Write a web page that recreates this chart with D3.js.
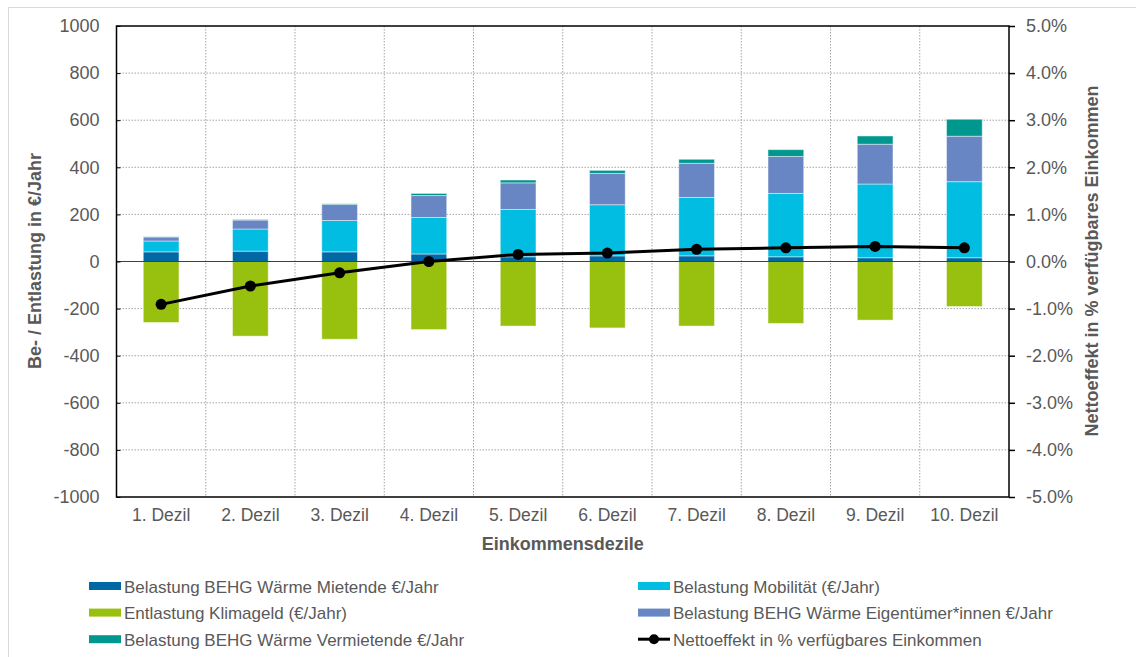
<!DOCTYPE html>
<html><head><meta charset="utf-8">
<script src="https://cdn.jsdelivr.net/npm/d3@7"></script>
<style>body{margin:0;background:#fff}svg{display:block;font-family:"Liberation Sans",Arial,sans-serif}</style>
</head><body>
<svg id="chart" width="1136" height="657"></svg>
<script>
const categories = ["1. Dezil","2. Dezil","3. Dezil","4. Dezil","5. Dezil","6. Dezil","7. Dezil","8. Dezil","9. Dezil","10. Dezil"];
const mietende    = [41, 44, 41, 32, 20, 24, 24, 20, 16, 16];
const mobilitaet  = [46, 94, 133, 155, 201, 217, 248, 269, 313, 323];
const eigentuemer = [17, 38, 68, 93, 113, 133, 145, 157, 169, 193];
const vermietende = [1, 2, 3, 9, 12, 13, 17, 29, 35, 72];
const klimageld   = [-259, -317, -330, -289, -274, -282, -274, -263, -249, -191];
const nettoeffekt = [-0.91, -0.52, -0.24, 0.0, 0.15, 0.18, 0.26, 0.29, 0.32, 0.29];
const leftTicks = [1000,800,600,400,200,0,-200,-400,-600,-800,-1000];
const rightTicks = [5,4,3,2,1,0,-1,-2,-3,-4,-5];

const colors = {
  mietende:"#0069a5", mobilitaet:"#00bde1", eigentuemer:"#6886c3",
  vermietende:"#00978f", klimageld:"#98c00f", line:"#000000"
};
const textCol = "#595959";

const svg = d3.select("#chart");
const L = 116.5, R = 1009, T = 26, B = 497;

// outer frame
svg.append("rect").attr("x",8.5).attr("y",7.5).attr("width",1140).attr("height",660)
  .attr("fill","none").attr("stroke","#d9d9d9").attr("stroke-width",1);

const x = d3.scaleBand().domain(categories).range([L,R]).paddingInner(0).paddingOuter(0);
const y = d3.scaleLinear().domain([-1000,1000]).range([B,T]);
const y2 = d3.scaleLinear().domain([-5,5]).range([B,T]);
const barW = x.bandwidth()*0.4;

// gridlines
const grid = svg.append("g");
leftTicks.filter(v=>v!==1000 && v!==-1000 && v!==0).forEach(v=>{
  grid.append("line").attr("x1",L).attr("x2",R).attr("y1",y(v)).attr("y2",y(v))
    .attr("stroke","#a6a6a6").attr("stroke-width",1).attr("stroke-dasharray","1.5,1.5");
});
categories.slice(1).forEach(c=>{
  const xx = x(c);
  grid.append("line").attr("x1",xx).attr("x2",xx).attr("y1",T).attr("y2",B)
    .attr("stroke","#a6a6a6").attr("stroke-width",1).attr("stroke-dasharray","1.5,1.5");
});

// stacked bars
const posSeries = [
  {key:"mietende", vals:mietende},
  {key:"mobilitaet", vals:mobilitaet},
  {key:"eigentuemer", vals:eigentuemer},
  {key:"vermietende", vals:vermietende}
];
const bars = svg.append("g");
categories.forEach((c,i)=>{
  let base = 0;
  posSeries.forEach(s=>{
    const v = s.vals[i];
    bars.append("rect")
      .attr("x", x(c)+x.bandwidth()/2-barW/2)
      .attr("width", barW)
      .attr("y", y(base+v))
      .attr("height", y(base)-y(base+v))
      .attr("fill", colors[s.key])
      .attr("stroke","#ffffff").attr("stroke-opacity",0.45).attr("stroke-width",1);
    base += v;
  });
  bars.append("rect")
    .attr("x", x(c)+x.bandwidth()/2-barW/2)
    .attr("width", barW)
    .attr("y", y(0))
    .attr("height", y(klimageld[i])-y(0))
    .attr("fill", colors.klimageld)
    .attr("stroke","#ffffff").attr("stroke-opacity",0.45).attr("stroke-width",1);
});

// zero line
svg.append("line").attr("x1",L).attr("x2",R).attr("y1",y(0)).attr("y2",y(0))
  .attr("stroke","#404040").attr("stroke-width",1.2);

// plot frame
svg.append("rect").attr("x",L).attr("y",T).attr("width",R-L).attr("height",B-T)
  .attr("fill","none").attr("stroke","#000").attr("stroke-width",1.5);

// left axis
const leftAxis = svg.append("g").attr("transform",`translate(${L},0)`)
  .call(d3.axisLeft(y).tickValues(leftTicks).tickSize(-4).tickPadding(17).tickFormat(d=>String(d)));
leftAxis.select(".domain").remove();
leftAxis.selectAll("line").attr("stroke","#000");
leftAxis.selectAll("text").attr("fill",textCol).style("font-size","18px").attr("font-family",null);

// right axis
const rightAxis = svg.append("g").attr("transform",`translate(${R},0)`)
  .call(d3.axisRight(y2).tickValues(rightTicks).tickSize(6).tickPadding(11).tickFormat(d=>d.toFixed(1)+"%"));
rightAxis.select(".domain").remove();
rightAxis.selectAll("line").attr("stroke","#000").attr("stroke-width",1.5);
rightAxis.selectAll("text").attr("fill",textCol).style("font-size","18px").attr("font-family",null);

// x axis labels
const xAxis = svg.append("g").attr("transform",`translate(0,${B})`)
  .call(d3.axisBottom(x).tickSize(0).tickPadding(12));
xAxis.select(".domain").remove();
xAxis.selectAll("text").attr("fill",textCol).style("font-size","17.5px").attr("font-family",null);

// axis titles
svg.append("text").attr("transform",`translate(41,261) rotate(-90)`)
  .attr("text-anchor","middle").attr("fill",textCol).style("font-size","18px").style("font-weight","bold")
  .text("Be- / Entlastung in €/Jahr");
svg.append("text").attr("transform",`translate(1098,261) rotate(-90)`)
  .attr("text-anchor","middle").attr("fill",textCol).style("font-size","18px").style("font-weight","bold")
  .text("Nettoeffekt in % verfügbares Einkommen");
svg.append("text").attr("x",(L+R)/2).attr("y",550)
  .attr("text-anchor","middle").attr("fill",textCol).style("font-size","18px").style("font-weight","bold")
  .text("Einkommensdezile");

// line
const lineGen = d3.line().x((d,i)=>x(categories[i])+x.bandwidth()/2).y(d=>y2(d));
svg.append("path").datum(nettoeffekt).attr("d",lineGen)
  .attr("fill","none").attr("stroke",colors.line).attr("stroke-width",3);
svg.append("g").selectAll("circle").data(nettoeffekt).join("circle")
  .attr("cx",(d,i)=>x(categories[i])+x.bandwidth()/2).attr("cy",d=>y2(d)).attr("r",5.5)
  .attr("fill","#000");

// legend
const legendItems = [
  {label:"Belastung BEHG Wärme Mietende €/Jahr", key:"mietende", col:0, row:0},
  {label:"Belastung Mobilität (€/Jahr)", key:"mobilitaet", col:1, row:0},
  {label:"Entlastung Klimageld (€/Jahr)", key:"klimageld", col:0, row:1},
  {label:"Belastung BEHG Wärme Eigentümer*innen €/Jahr", key:"eigentuemer", col:1, row:1},
  {label:"Belastung BEHG Wärme Vermietende €/Jahr", key:"vermietende", col:0, row:2},
  {label:"Nettoeffekt in % verfügbares Einkommen", key:"line", col:1, row:2, isLine:true}
];
const colX = [89, 638], rowY = [586, 612.6, 639.2];
const lg = svg.append("g");
legendItems.forEach(it=>{
  const gx = colX[it.col], gy = rowY[it.row];
  if(it.isLine){
    lg.append("line").attr("x1",gx).attr("x2",gx+32).attr("y1",gy).attr("y2",gy)
      .attr("stroke","#000").attr("stroke-width",3);
    lg.append("circle").attr("cx",gx+16).attr("cy",gy).attr("r",5).attr("fill","#000");
  } else {
    lg.append("rect").attr("x",gx).attr("y",gy-4).attr("width",32).attr("height",8)
      .attr("fill",colors[it.key]);
  }
  lg.append("text").attr("x",gx+35).attr("y",gy+6.5).attr("fill",textCol)
    .style("font-size","17px").text(it.label);
});
</script>
</body></html>
